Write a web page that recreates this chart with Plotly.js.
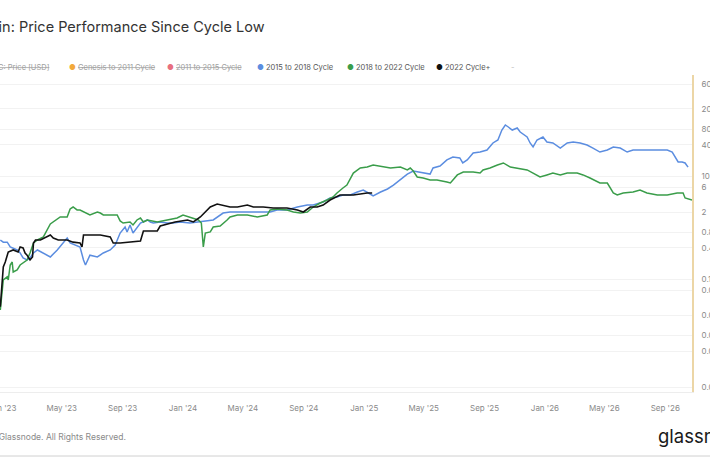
<!DOCTYPE html>
<html>
<head>
<meta charset="utf-8">
<script src="https://cdn.plot.ly/plotly-3.0.1.min.js"></script>
<style>
  html, body { margin: 0; padding: 0; width: 710px; height: 458px; overflow: hidden; background: #fff; }
  #chart { position: absolute; left: -80px; top: 0; width: 880px; height: 458px; }
</style>
</head>
<body>
<div id="chart"></div>
<script>
// jour 0 = plus bas du cycle 2022, les autres cycles sont alignés sur ce jour
const cycleLow = '2022-11-21';

// 2015 to 2018 Cycle (jours depuis le plus bas, rendement depuis le plus bas)
const days2015 = [37,43,51,57,71,77,83,91,97,104,112,124,132,138,152,164,172,178,198,205,209,218,233,245,259,269,279,289,293,299,305,320,334,340,346,360,374,386,400,420,441,467,487,501,521,541,562,582,596,616,637,657,669,689,703,717,729,744,758,770,784,790,805,819,831,845,859,871,885,899,905,911,925,939,951,965,971,980,992,1006,1020,1032,1042,1050,1057,1063,1071,1081,1087,1101,1107,1113,1121,1133,1141,1153,1168,1182,1194,1208,1222,1234,1248,1263,1275,1289,1303,1315,1335,1356,1384,1394,1400,1406,1414,1420,1426];
const roi2015 = [0.572,0.52,0.52,0.418,0.366,0.32,0.256,0.234,0.256,0.32,0.366,0.32,0.29,0.268,0.366,0.50,0.626,0.50,0.418,0.234,0.187,0.29,0.268,0.32,0.366,0.457,0.78,1.02,0.82,1.12,0.78,1.22,1.40,1.28,1.22,1.28,1.22,1.22,1.28,1.22,1.28,1.40,1.91,2.0,2.0,2.0,2.0,2.0,2.19,2.19,2.5,2.73,2.73,3.13,3.74,3.91,4.28,4.28,4.89,5.35,4.47,4.09,4.89,5.6,6.68,8.36,10.9,12.5,11.95,11.4,10.9,14.3,15.6,20.5,23.4,22.4,17.9,20.5,28,29.2,32,43.8,50,78,97.8,89.4,78,85.5,71.4,57.2,43.8,36.6,50,57.2,45.7,43.8,34.9,43.8,45.7,43.8,40,34.9,29.2,32,36.6,34.9,29.2,32,32,32,32,29.2,23.4,18.7,18.7,17.9,14.9];

// 2018 to 2022 Cycle
const days2018 = [37,41,43,51,53,57,61,63,71,77,83,91,97,102,104,112,124,138,144,158,172,178,184,192,198,212,218,233,239,245,259,273,279,285,299,305,313,320,326,334,354,374,394,406,420,437,443,447,451,461,467,481,495,501,516,536,556,576,582,596,616,629,643,657,669,683,697,709,717,723,729,737,744,750,764,778,790,805,825,845,859,865,871,879,891,905,919,939,946,960,972,992,1006,1012,1026,1041,1053,1067,1081,1101,1113,1127,1141,1153,1168,1182,1202,1214,1228,1242,1248,1263,1269,1275,1283,1295,1315,1329,1343,1364,1384,1404,1416,1420,1434];
const roi2018 = [0.025,0.0535,0.0957,0.11,0.0957,0.187,0.214,0.137,0.150,0.187,0.205,0.234,0.32,0.418,0.50,0.572,0.655,1.17,1.28,1.60,1.60,2.29,2.5,2.19,2.19,1.91,1.75,2.0,1.91,1.75,1.75,1.75,1.34,1.22,1.28,1.12,1.40,1.53,1.28,1.40,1.28,1.40,1.53,1.75,1.60,1.40,1.22,0.418,0.78,0.82,1.02,1.07,1.40,1.60,1.75,1.75,1.60,1.75,2.19,2.29,2.19,2.0,1.91,2.0,2.5,2.99,3.42,3.91,4.68,5.35,5.85,6.68,9.15,11.4,14.3,14.9,16.3,15.6,14.3,14.9,13.1,14.3,12.5,9.56,9.15,8.36,8.36,7.65,7.31,10.5,11.95,11.95,11.4,13.1,14.3,16.3,17.9,14.9,14.3,13.1,11.4,9.56,10.5,11.4,10.5,11.4,11.4,10.5,9.15,7.65,7.31,7.31,5.85,4.68,4.28,4.68,4.89,5.35,4.68,4.28,4.28,4.68,4.68,3.74,3.42];

// 2022 Cycle+
const days2022 = [37,43,47,53,63,73,77,83,87,91,97,102,104,108,118,132,138,144,154,172,184,198,202,205,239,259,265,279,320,326,354,360,390,415,427,441,461,475,487,501,516,536,548,568,588,616,637,649,663,677,689,703,723,750,778,788];
const roi2022 = [0.029,0.171,0.214,0.334,0.366,0.334,0.418,0.40,0.32,0.29,0.234,0.268,0.50,0.572,0.572,0.655,0.716,0.626,0.572,0.572,0.52,0.50,0.418,0.716,0.716,0.655,0.50,0.50,0.547,0.855,0.855,1.07,1.28,1.40,1.28,1.60,2.5,2.86,2.73,2.5,2.5,2.73,2.5,2.5,2.39,2.39,2.19,2.0,2.5,2.5,2.73,3.42,4.28,4.28,4.68,4.68];

// graduations de l'axe de droite
const yTickVals = [600,200,80,40,10,6,2,0.8,0.4,0.1,0.06,0.02,0.008,0.004,0.0008];
const yTickText = ['600','200','80','40','10','6','2','0.8','0.4','0.1','0.06','0.02','0.008','0.004','0.0008'];

// légende
const legendNames = ['BTC: Price [USD]','Genesis to 2011 Cycle','2011 to 2015 Cycle','2015 to 2018 Cycle','2018 to 2022 Cycle','2022 Cycle+','-'];
const legendColors = ['#f7931a','#f2a93b','#e86f7f','#5b8de0','#3a9d4a','#111111',''];
const legendHidden = [true,true,true,false,false,false,false];

// position des entrées de légende (px dans l'image)
const legendDotX = [-19,70,168,258,348,437,512];

const baseMs = Date.parse(cycleLow + 'T00:00:00Z');
function toDates(days) {
    return days.map(d => new Date(baseMs + d * 86400000).toISOString().slice(0, 10));
}

// la zone de tracé: de x=-18.3 à x=692 dans l'image, y de 75 à 392
const offL = 80;
const plotL = -18.3, plotR = 692, plotT = 75, plotB = 392;
const W = 880, H = 458;
function px(x) { return (x - plotL) / (plotR - plotL); }
function py(y) { return (plotB - y) / (plotB - plotT); }

let data = [
    {x: toDates(days2015), y: roi2015, mode: 'lines', name: '2015 to 2018 Cycle',
     line: {color: '#5b8de0', width: 1.5}, showlegend: false},
    {x: toDates(days2018), y: roi2018, mode: 'lines', name: '2018 to 2022 Cycle',
     line: {color: '#3a9d4a', width: 1.5}, showlegend: false},
    {x: toDates(days2022), y: roi2022, mode: 'lines', name: '2022 Cycle+',
     line: {color: '#111111', width: 1.6}, showlegend: false}
];

let annotations = [];
for (let i = 0; i < legendNames.length; i++) {
    let txt;
    if (legendColors[i] === '') {
        txt = '<span style="color:#bbbbbb">' + legendNames[i] + '</span>';
    } else if (legendHidden[i]) {
        txt = '<span style="color:' + legendColors[i] + '">●</span> ' +
              '<span style="color:#a0a0a0;text-decoration:line-through">' + legendNames[i] + '</span>';
    } else {
        txt = '<span style="color:' + legendColors[i] + '">●</span> ' +
              '<span style="color:#555555">' + legendNames[i] + '</span>';
    }
    annotations.push({
        text: txt, xref: 'paper', yref: 'paper', x: px(legendDotX[i] - 3), y: py(68),
        xanchor: 'left', yanchor: 'middle', showarrow: false,
        font: {family: 'Inter, sans-serif', size: 7.5, color: '#555'}
    });
}
// pied de page
annotations.push({
    text: '© 2024 Glassnode. All Rights Reserved.', xref: 'paper', yref: 'paper',
    x: px(-37), y: py(437), xanchor: 'left', yanchor: 'middle', showarrow: false,
    font: {family: 'Inter, sans-serif', size: 8.5, color: '#8a8a8a'}
});
annotations.push({
    text: 'glassnode', xref: 'paper', yref: 'paper',
    x: px(656), y: py(436), xanchor: 'left', yanchor: 'middle', showarrow: false,
    font: {family: 'Inter, sans-serif', size: 18.5, color: '#1a1a1a'}
});

let layout = {
    width: W, height: H,
    margin: {l: offL + plotL, r: W - offL - plotR, t: plotT, b: H - plotB, pad: 0},
    paper_bgcolor: '#ffffff', plot_bgcolor: '#ffffff',
    showlegend: false,
    title: {
        text: 'Bitcoin: Price Performance Since Cycle Low',
        xref: 'container', x: (offL - 36) / W, xanchor: 'left',
        yref: 'container', y: 1 - 27 / H, yanchor: 'middle',
        font: {family: 'Inter, sans-serif', size: 14.5, color: '#333333'}
    },
    xaxis: {
        type: 'date', range: [cycleLow, '2026-10-25'],
        tick0: '2023-01-01', dtick: 'M4', tickformat: "%b '%y",
        ticks: 'outside', ticklen: 8, tickcolor: 'rgba(0,0,0,0)',
        tickfont: {family: 'Inter, sans-serif', size: 8, color: '#8a8a8a'},
        showgrid: false, zeroline: false,
        showline: true, linecolor: '#ededed', linewidth: 1
    },
    yaxis: {
        type: 'log', side: 'right', range: [-3.194, 2.961],
        tickvals: yTickVals, ticktext: yTickText,
        ticks: 'outside', ticklen: 6, tickcolor: 'rgba(0,0,0,0)',
        tickfont: {family: 'Inter, sans-serif', size: 8, color: '#8a8a8a'},
        showgrid: true, gridcolor: '#f2f2f2', gridwidth: 1, zeroline: false,
        showline: true, linecolor: '#ecd6a6', linewidth: 2
    },
    annotations: annotations,
    shapes: [{
        type: 'line', xref: 'paper', yref: 'paper',
        x0: px(-100), x1: px(800), y0: py(456), y1: py(456),
        line: {color: '#d0d0d0', width: 1}
    }]
};

Plotly.newPlot('chart', data, layout, {displayModeBar: false, staticPlot: true});
</script>
</body>
</html>
